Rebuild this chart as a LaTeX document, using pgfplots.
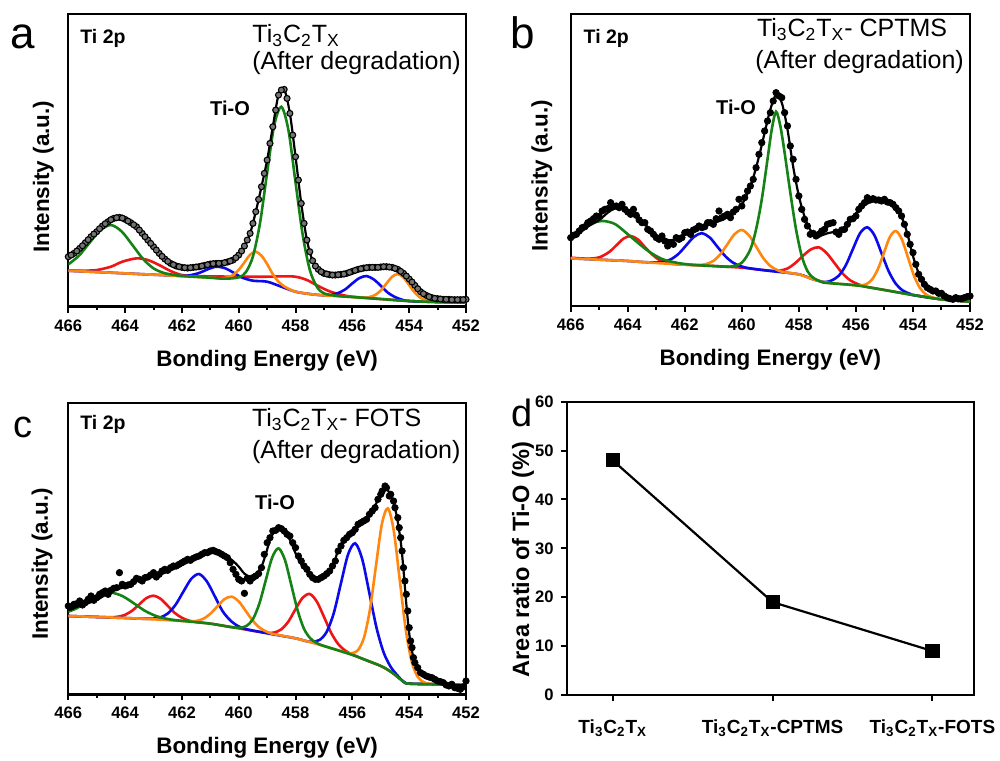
\documentclass[border=0pt]{standalone}
\usepackage{fontspec}
\setmainfont{Liberation Sans}
\usepackage{pgfplots}
\usepackage{pgfplotstable}
\pgfplotsset{compat=1.18}
\definecolor{cRed}{RGB}{240,20,20}
\definecolor{cBlue}{RGB}{10,10,235}
\definecolor{cGreen}{RGB}{20,130,20}
\definecolor{cOrange}{RGB}{255,135,15}

\pgfplotsset{
  xps/.style={
    scale only axis, x dir=reverse, xmin=452, xmax=466, ymin=0,
    ytick=\empty, xtick={452,454,...,466}, minor xtick={453,455,...,465},
    tick align=outside, xtick pos=left, major tick length=3pt, minor tick length=1.8pt,
    axis line style={line width=1.2pt}, tick style={line width=1pt, black},
    xticklabel style={font=\bfseries\fontsize{8.3}{9}\selectfont},
    /pgf/number format/assume math mode=true,
    xlabel={Bonding Energy (eV)}, ylabel={Intensity (a.u.)},
    label style={font=\bfseries\fontsize{11.2}{13}\selectfont},
    xlabel style={at={(axis description cs:0.5,-0.185)}, anchor=center},
  },
  comp/.style={line width=1.3pt, smooth},
  fitline/.style={black, line width=1.1pt, smooth, no marks},
  amarks/.style={only marks, mark=*, mark size=1.5pt, mark options={fill=black!55, draw=black, line width=0.55pt}},
  bmarks/.style={only marks, mark=*, mark size=1.6pt, black},
}

% ---------- data panel a ----------
\pgfplotstableread{
E Y
466.0 150
465.8 160
465.6 175
465.4 192
465.2 210
465.0 225
464.8 242
464.6 255
464.4 265
464.2 268
464.0 262
463.8 252
463.6 240
463.4 220
463.2 200
463.0 180
462.8 160
462.6 143
462.4 130
462.2 122
462.0 118
461.8 116
461.6 118
461.4 120
461.2 124
461.0 128
460.8 130
460.6 130
460.4 134
460.2 140
460.0 155
459.8 182
459.6 220
459.4 285
459.2 360
459.0 440
458.8 540
458.6 635
458.4 652
458.2 580
458.0 450
457.8 310
457.6 200
457.4 138
457.2 112
457.0 100
456.8 96
456.6 95
456.4 97
456.2 100
456.0 106
455.8 112
455.6 116
455.4 118
455.2 118
455.0 119
454.8 120
454.6 118
454.4 112
454.2 100
454.0 83
453.8 64
453.6 45
453.4 34
453.2 27
453.0 24
452.8 22
452.6 22
452.4 21
452.2 21
452.0 22
}\adata
\pgfplotstableread{
E Y
465.9 155
465.7 167
465.5 183
465.3 201
465.1 218
464.9 234
464.7 249
464.5 261
464.3 267
464.1 266
463.9 257
463.7 246
463.5 230
463.3 210
463.1 190
462.9 170
462.7 151
462.5 136
462.3 126
462.1 120
461.9 117
461.7 117
461.5 119
461.3 122
461.1 126
460.9 129
460.7 130
460.5 132
460.3 137
460.1 147
459.9 167
459.7 200
459.5 250
459.3 322
459.1 400
458.9 490
458.7 590
458.5 650
458.3 625
458.1 515
457.9 380
457.7 250
457.5 165
457.3 122
457.1 105
456.9 98
456.7 95
456.5 96
456.3 98
456.1 103
455.9 109
455.7 114
455.5 117
455.3 118
455.1 118
454.9 120
454.7 119
454.5 115
454.3 106
454.1 92
453.9 74
453.7 54
453.5 39
453.3 30
453.1 25
452.9 23
452.7 22
452.5 21
452.3 21
452.1 21
}\adataB

% ---------- data panel b ----------
\pgfplotstableread{
E Y
466.0 205
465.8 215
465.6 235
465.4 250
465.2 262
465.0 268
464.8 290
464.6 310
464.4 300
464.2 305
464.0 282
463.8 290
463.6 258
463.4 250
463.2 225
463.0 205
462.8 210
462.6 180
462.4 185
462.2 200
462.0 220
461.8 215
461.6 232
461.4 235
461.2 250
461.0 245
460.8 285
460.6 270
460.4 265
460.2 290
460.0 300
459.8 345
459.6 380
459.4 455
459.2 525
459.0 580
458.8 640
458.6 625
458.4 540
458.2 440
458.0 330
457.8 260
457.6 215
457.4 210
457.2 225
457.0 245
456.8 250
456.6 215
456.4 230
456.2 260
456.0 270
455.8 300
455.6 325
455.4 322
455.2 318
455.0 320
454.8 310
454.6 295
454.4 270
454.2 215
454.0 160
453.8 95
453.6 65
453.4 50
453.2 45
453.0 38
452.8 25
452.6 20
452.4 22
452.2 25
452.0 30
}\bdata
\pgfplotstableread{
E Y
465.9 212
465.7 225
465.5 238
465.3 255
465.1 270
464.9 285
464.7 292
464.5 298
464.3 295
464.1 290
463.9 275
463.7 272
463.5 250
463.3 230
463.1 215
462.9 200
462.7 195
462.5 190
462.3 205
462.1 205
461.9 222
461.7 228
461.5 240
461.3 238
461.1 250
460.9 262
460.7 265
460.5 275
460.3 282
460.1 320
459.9 325
459.7 360
459.5 415
459.3 490
459.1 555
458.9 615
458.7 630
458.5 580
458.3 480
458.1 380
457.9 290
457.7 240
457.5 218
457.3 215
457.1 230
456.9 248
456.7 222
456.5 228
456.3 245
456.1 262
455.9 290
455.7 310
455.5 318
455.3 318
455.1 315
454.9 312
454.7 305
454.5 285
454.3 245
454.1 185
453.9 125
453.7 80
453.5 55
453.3 45
453.1 38
452.9 30
452.7 22
452.5 25
452.3 22
452.1 28
}\bdataB

% ---------- data panel c ----------
\pgfplotstableread{
E Y
466.0 265
465.8 270
465.6 280
465.4 275
465.2 295
465.0 290
464.8 305
464.6 300
464.4 318
464.2 365
464.0 325
463.8 330
463.6 348
463.4 340
463.2 352
463.0 365
462.8 360
462.6 375
462.4 380
462.2 385
462.0 395
461.8 405
461.6 408
461.4 415
461.2 425
461.0 430
460.8 428
460.6 420
460.4 410
460.2 375
460.0 345
459.8 303
459.6 340
459.4 355
459.2 380
459.0 455
458.8 490
458.6 500
458.4 490
458.2 475
458.0 440
457.8 400
457.6 375
457.4 350
457.2 345
457.0 355
456.8 370
456.6 400
456.4 445
456.2 470
456.0 485
455.8 510
455.6 520
455.4 540
455.2 560
455.0 600
454.85 625
454.7 595
454.55 580
454.4 530
454.3 470
454.2 380
454.1 300
454.0 200
453.9 140
453.8 95
453.6 65
453.4 55
453.2 50
453.0 40
452.8 35
452.6 25
452.4 20
452.2 15
452.0 40
}\cdata
\pgfplotstableread{
E Y
465.9 262
465.7 272
465.5 268
465.3 285
465.1 282
464.9 300
464.7 310
464.5 312
464.3 320
464.1 330
463.9 328
463.7 338
463.5 345
463.3 350
463.1 358
462.9 352
462.7 370
462.5 372
462.3 385
462.1 390
461.9 400
461.7 402
461.5 412
461.3 420
461.1 425
460.9 432
460.7 425
460.5 415
460.3 395
460.1 360
459.9 340
459.7 348
459.5 350
459.3 362
459.1 420
458.9 470
458.7 492
458.5 497
458.3 480
458.1 455
457.9 415
457.7 385
457.5 360
457.3 345
457.1 350
456.9 362
456.7 385
456.5 430
456.3 462
456.1 480
455.9 495
455.7 515
455.5 525
455.3 550
455.1 585
454.95 610
454.8 620
454.65 600
454.5 560
454.35 500
454.25 430
454.15 340
454.05 250
453.95 160
453.85 110
453.7 80
453.5 60
453.3 52
453.1 45
452.9 38
452.7 28
452.5 30
452.3 18
452.1 22
}\cdataB

\begin{document}
\begin{tikzpicture}
\useasboundingbox (0,0) rectangle (500pt,380pt);

% ================= panel a =================
\begin{axis}[xps, at={(34.15pt,226.65pt)}, anchor=south west,
  width=198.85pt, height=146.3pt, ymax=878,
  ylabel style={at={(axis description cs:-0.063,0.444)}, anchor=center}]
\addplot[cRed, comp] coordinates {(466,108) (465.5,108) (465,110) (464.5,120) (464.1,135) (463.6,145) (463.2,140) (462.8,125) (462.4,107) (462,95) (461.5,92) (461,91) (460,90) (459,90) (458.5,91) (458,90) (457.6,80) (457.2,62) (456.8,46) (456.4,36) (456,30) (455,23) (454,17) (453,14) (452,12)};
\addplot[cBlue, comp] coordinates {(466,108) (465,104) (464,100) (463,96) (462.2,93) (461.8,93) (461.4,101) (461.1,112) (460.8,120) (460.5,116) (460.2,103) (459.9,88) (459.5,78) (459,75) (458.5,60) (458,45) (457.5,38) (457,34) (456.75,35) (456.5,41) (456.25,52) (456,70) (455.75,86) (455.5,92) (455.25,82) (455,63) (454.75,42) (454.5,29) (454.25,21) (454,17) (453,14) (452,12)};
\addplot[cOrange, comp] coordinates {(466,108) (465,104) (464,100) (463,96) (462,92) (461,87) (460.6,85) (460.4,88) (460.2,95) (460,110.5) (459.8,133) (459.6,156) (459.4,165) (459.2,153) (459,128) (458.8,97.5) (458.6,75) (458.4,61) (458.2,52) (458,45) (457.5,38) (457,34) (456,29) (455.6,27) (455.4,29) (455.2,35) (455,48.5) (454.8,69.5) (454.6,90) (454.4,98) (454.2,87.6) (454,64.7) (453.8,42) (453.6,26.4) (453.4,18.7) (453.2,15.5) (453,14) (452,12)};
\addplot[cGreen, comp] coordinates {(466,127) (465.625,153) (465.25,192) (464.875,229) (464.5,245) (464.125,226) (463.75,186) (463.375,144) (463,115) (462.625,101) (462.25,95) (462,92) (461,87) (460.5,84) (460,88) (459.75,103.7) (459.5,151) (459.25,251.5) (459,402.5) (458.75,544.5) (458.5,600) (458.25,529.5) (458,372.5) (457.75,216.5) (457.5,111) (457.25,60) (457,40) (456.5,32) (456,29) (455,23) (454,17) (453,14) (452,12)};
\addplot[amarks] table[x=E,y=Y]{\adata};
\addplot[amarks] table[x=E,y=Y]{\adataB};
\addplot[fitline] table[x=E,y=Y]{\adata};
\end{axis}

% ================= panel b =================
\begin{axis}[xps, at={(285.35pt,227pt)}, anchor=south west,
  width=199.65pt, height=146pt, ymax=876,
  ylabel style={at={(axis description cs:-0.072,0.445)}, anchor=center}]
\addplot[cRed, comp] coordinates {(466,145) (465.4,142) (465,146) (464.65,162) (464.4,182) (464.15,202) (463.9,210) (463.65,200) (463.4,177) (463.15,155) (462.9,138.5) (462.65,130) (462.4,126) (462,124) (461,120) (460,115) (459.5,110) (458.95,105.6) (458.675,106) (458.4,112.5) (458.125,128.8) (457.85,151) (457.575,170) (457.3,176) (457.025,158.5) (456.75,128.6) (456.475,98.3) (456.2,77) (455.925,65.4) (455.65,58) (455,48) (454,33) (453,20) (452,13)};
\addplot[cBlue, comp] coordinates {(466,143) (465,139) (464,135) (463.5,132) (463.05,130.5) (462.775,132) (462.5,139.5) (462.225,156) (461.95,182) (461.675,207.7) (461.4,218) (461.125,205.5) (460.85,177) (460.575,149) (460.3,129.5) (460.025,119) (459.75,113.5) (459,105) (458,95) (457.5,80) (457.1,72) (456.85,76.7) (456.6,91) (456.35,123) (456.1,172) (455.85,219) (455.6,236) (455.35,212) (455.1,158) (454.85,104) (454.6,66.4) (454.35,46) (454.1,36.5) (454,33) (453,20) (452,13)};
\addplot[cOrange, comp] coordinates {(466,143) (465,139) (464,135) (463,129) (462,124) (461.5,123) (461.25,126) (461,135) (460.75,155.5) (460.5,186) (460.25,216) (460,228) (459.75,212) (459.5,178.5) (459.25,144) (459,120) (458.75,107.5) (458.5,101) (458,95) (457.5,80) (457,70) (456,62) (455.86,62) (455.65,65) (455.44,79) (455.23,110.6) (455.02,159) (454.81,207) (454.6,225) (454.39,200) (454.18,147) (453.97,92) (453.76,54.7) (453.55,35) (453.34,26.4) (453,20) (452,13)};
\addplot[cGreen, comp] coordinates {(466,203) (465.5,236) (465.2,250) (464.85,255) (464.5,248) (464.3,237) (463.8,201) (463.3,166) (462.8,141) (462.3,130) (461.8,124) (461,120) (460.4,118) (460,130) (459.7,170) (459.5,230) (459.3,320) (459.1,440) (458.95,530) (458.8,583) (458.65,540) (458.5,460) (458.3,340) (458.1,230) (457.9,150) (457.7,105) (457.5,85) (457.2,72) (457,69) (456,62) (455,48) (454,33) (453,20) (452,13)};
\addplot[bmarks] table[x=E,y=Y]{\bdata};
\addplot[bmarks] table[x=E,y=Y]{\bdataB};
\addplot[fitline] coordinates {(466,200) (465.7,218) (465.4,238) (465,258) (464.7,280) (464.45,293) (464.2,292) (463.9,283) (463.6,265) (463.4,245) (463.2,228) (463,213) (462.8,203) (462.6,198) (462.4,198) (462.2,205) (462,215) (461.7,228) (461.4,238) (461,248) (460.6,262) (460.3,278) (460,305) (459.8,338) (459.6,385) (459.4,448) (459.2,520) (459,590) (458.8,633) (458.6,610) (458.4,530) (458.2,418) (458,330) (457.8,268) (457.6,228) (457.4,213) (457.2,212) (457,218) (456.7,224) (456.4,235) (456.2,255) (456,278) (455.7,302) (455.4,315) (455.1,315) (454.8,308) (454.6,298) (454.4,268) (454.2,218) (454,150) (453.8,98) (453.6,65) (453.4,48) (453.2,38) (453,33) (452.5,23) (452,23)};
\end{axis}

% ================= panel c =================
\begin{axis}[xps, at={(34.15pt,32.85pt)}, anchor=south west,
  width=198.85pt, height=145.8pt, ymax=875,
  ylabel style={at={(axis description cs:-0.066,0.447)}, anchor=center}]
\addplot[cRed, comp] coordinates {(466,235) (465,232) (464.5,231.3) (464.25,232.9) (464,238.6) (463.75,251) (463.5,270) (463.25,288.7) (463,296) (462.75,286.5) (462.5,265.5) (462.25,244) (462,229.6) (461.75,221) (461.5,216.8) (461,212) (460,198) (459.5,190.5) (459,184.6) (458.75,185.5) (458.5,195) (458.25,218.6) (458,255.6) (457.75,289.75) (457.5,301) (457.25,278) (457,232.6) (456.75,185) (456.5,151) (456.25,131) (456,119.6) (455.5,101.5) (455,85) (454.6,65) (454.2,38) (454,32) (453,30) (452,28)};
\addplot[cBlue, comp] coordinates {(466,235) (465,232) (464,229) (463.5,227) (463.05,226.8) (462.775,230.3) (462.5,242.3) (462.225,268.5) (461.95,308) (461.675,346) (461.4,361) (461.125,339) (460.85,295.4) (460.575,250.4) (460.3,222) (460.025,204.75) (459.75,195.85) (459,183) (458,168) (457.6,159) (457.4,158) (457.15,163.3) (456.9,188) (456.65,245) (456.4,334) (456.15,420) (455.9,453) (455.65,404.5) (455.4,303) (455.15,199.7) (454.9,125.7) (454.65,82.3) (454.4,55.2) (454.2,38) (454,32) (453,30) (452,28)};
\addplot[cOrange, comp] coordinates {(466,235) (465,232) (464,229) (463,225) (462,220) (461.75,219) (461.5,220) (461.25,226.4) (461,241.7) (460.75,264) (460.5,285.7) (460.25,293) (460,278.7) (459.75,249.75) (459.5,220.2) (459.25,199) (459,187) (458.75,180.25) (458,168) (457,145) (456.22,125) (456.01,123.6) (455.8,132.7) (455.59,170.2) (455.38,255) (455.17,385) (454.96,511.5) (454.75,558) (454.54,489.5) (454.33,341.3) (454.12,194) (453.91,97.5) (453.7,52.7) (453.49,36.3) (453.28,31.6) (453,30) (452,28)};
\addplot[cGreen, comp] coordinates {(466,248) (465.7,258.4) (465.3,278.5) (464.9,297.7) (464.5,305) (464.1,295) (463.7,273.5) (463.3,250.4) (462.9,234.6) (462.5,226) (462.1,221.3) (461,212) (460.3,202) (459.95,200) (459.725,205.4) (459.5,225.5) (459.275,272) (459.05,341.75) (458.825,410) (458.6,438) (458.375,403.6) (458.15,328) (457.925,251) (457.7,196) (457.475,167.5) (457.25,153.7) (457,145) (456,118) (455,85) (454.6,65) (454.2,38) (454,32) (453,30) (452,28)};
\addplot[bmarks] table[x=E,y=Y]{\cdata};
\addplot[bmarks] table[x=E,y=Y]{\cdataB};
\addplot[fitline] coordinates {(466,253) (465.5,268) (465,283) (464.5,308) (464,323) (463.5,343) (463,353) (462.5,368) (462,388) (461.5,408) (461,423) (460.7,425) (460.5,418) (460.2,400) (460,383) (459.8,362) (459.6,353) (459.4,360) (459.2,383) (459.05,420) (458.9,463) (458.75,488) (458.6,495) (458.45,492) (458.3,478) (458.15,455) (458,423) (457.8,390) (457.6,368) (457.4,352) (457.2,345) (457,348) (456.8,363) (456.65,390) (456.5,433) (456.25,470) (456,493) (455.75,505) (455.5,523) (455.3,550) (455.1,583) (454.9,618) (454.75,612) (454.6,585) (454.45,540) (454.3,460) (454.2,373) (454.1,270) (454,183) (453.9,130) (453.8,93) (453.6,65) (453.5,53) (453.25,44) (453,38) (452.5,28) (452,28)};
\end{axis}

% ================= panel d =================
\begin{axis}[at={(283.35pt,32.5pt)}, anchor=south west, scale only axis,
  width=203.65pt, height=146.65pt,
  xmin=-0.288, xmax=2.26, ymin=0, ymax=60,
  xtick={0,1,2},
  xticklabels={Ti\textsubscript{3}C\textsubscript{2}T\textsubscript{X},
               Ti\textsubscript{3}C\textsubscript{2}T\textsubscript{X}-CPTMS,
               Ti\textsubscript{3}C\textsubscript{2}T\textsubscript{X}-FOTS},
  ytick={0,10,...,60},
  tick align=outside, xtick pos=left, ytick pos=left, major tick length=3pt,
  axis line style={line width=1.2pt}, tick style={line width=1pt, black},
  xticklabel style={font=\bfseries\fontsize{9.5}{11}\selectfont, yshift=-6pt},
  yticklabel style={font=\bfseries\fontsize{8.3}{9}\selectfont},
  /pgf/number format/assume math mode=true,
  ylabel={Area ratio of Ti-O (\%)},
  ylabel style={font=\bfseries\fontsize{11.8}{13}\selectfont, at={(axis description cs:-0.107,0.462)}, anchor=center}]
\addplot[black, line width=1.1pt, mark=square*, mark size=3pt] coordinates {(0,48) (1,19) (2,9)};
\end{axis}

% ================= annotations =================
\node[anchor=base, font=\fontsize{22}{26}\selectfont, inner sep=0pt] at (11.25pt,355.85pt) {a};
\node[anchor=base, font=\fontsize{22}{26}\selectfont, inner sep=0pt] at (261.25pt,355.85pt) {b};
\node[anchor=base, font=\fontsize{19}{22}\selectfont, inner sep=0pt] at (11.5pt,161pt) {c};
\node[anchor=base, font=\fontsize{19}{22}\selectfont, inner sep=0pt] at (261pt,166.65pt) {d};

\node[anchor=base west, font=\bfseries\fontsize{9.75}{11}\selectfont, inner sep=0pt] at (40pt,358.35pt) {Ti 2p};
\node[anchor=base west, font=\bfseries\fontsize{9.75}{11}\selectfont, inner sep=0pt] at (291.67pt,358.35pt) {Ti 2p};
\node[anchor=base west, font=\bfseries\fontsize{9.75}{11}\selectfont, inner sep=0pt] at (40pt,165pt) {Ti 2p};

\node[anchor=base west, font=\fontsize{12.5}{14}\selectfont, inner sep=0pt] at (126pt,358.65pt) {Ti\textsubscript{3}C\textsubscript{2}T\textsubscript{X}};
\node[anchor=base west, font=\fontsize{12.5}{14}\selectfont, inner sep=0pt] at (126pt,345pt) {(After degradation)};
\node[anchor=base west, font=\fontsize{12.5}{14}\selectfont, inner sep=0pt] at (378.3pt,361.65pt) {Ti\textsubscript{3}C\textsubscript{2}T\textsubscript{X}- CPTMS};
\node[anchor=base west, font=\fontsize{12.5}{14}\selectfont, inner sep=0pt] at (377.5pt,345.8pt) {(After degradation)};
\node[anchor=base west, font=\fontsize{12.5}{14}\selectfont, inner sep=0pt] at (125.8pt,166.65pt) {Ti\textsubscript{3}C\textsubscript{2}T\textsubscript{X}- FOTS};
\node[anchor=base west, font=\fontsize{12.5}{14}\selectfont, inner sep=0pt] at (125.8pt,150.8pt) {(After degradation)};

\node[font=\bfseries\fontsize{10}{12}\selectfont, inner sep=0pt] at (115pt,326pt) {Ti-O};
\node[font=\bfseries\fontsize{10}{12}\selectfont, inner sep=0pt] at (368pt,326.5pt) {Ti-O};
\node[font=\bfseries\fontsize{10}{12}\selectfont, inner sep=0pt] at (137.5pt,129pt) {Ti-O};
\end{tikzpicture}
\end{document}
